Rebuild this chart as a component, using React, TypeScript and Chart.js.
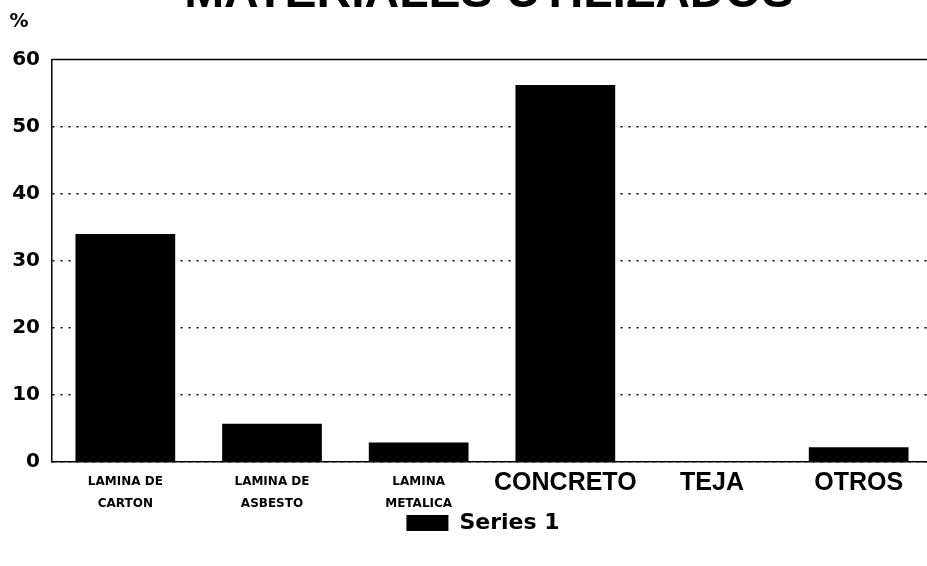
import React, { useEffect, useRef } from 'react';
import { Chart, registerables } from 'chart.js';

Chart.register(...registerables);

const categories: (string | string[])[] = [
  ['LAMINA DE', 'CARTON'],
  ['LAMINA DE', 'ASBESTO'],
  ['LAMINA', 'METALICA'],
  'CONCRETO',
  'TEJA',
  'OTROS',
];
const series1 = [34, 5.7, 2.9, 56.2, 0, 2.2];
const yMin = 0;
const yMax = 60;
const yStep = 10;
const titleText = 'MATERIALES UTILIZADOS';
const yUnit = '%';
const seriesName = 'Series 1';

const FONT = '"Liberation Sans", Arial, sans-serif';
const FONT_W = '"DejaVu Sans", sans-serif';

const framePlugin = {
  id: 'frame',
  afterLayout(chart: any) {
    const t = chart.titleBlock;
    if (t) {
      t.left += 23;
      t.right += 23;
    }
    const l = chart.legend;
    if (l) {
      l.left += 17;
      l.right += 17;
    }
  },
  afterDraw(chart: any) {
    const { ctx, chartArea } = chart;
    ctx.save();
    ctx.strokeStyle = '#000';
    ctx.lineWidth = 1.5;
    ctx.beginPath();
    ctx.moveTo(chartArea.left, chartArea.top);
    ctx.lineTo(chartArea.right, chartArea.top);
    ctx.stroke();
    ctx.font = `bold 19px ${FONT_W}`;
    ctx.fillStyle = '#000';
    ctx.textAlign = 'center';
    ctx.textBaseline = 'middle';
    ctx.fillText(yUnit, chartArea.left - 33, chartArea.top - 38);
    ctx.restore();
  },
};

export default function App() {
  const ref = useRef<HTMLCanvasElement | null>(null);

  useEffect(() => {
    if (!ref.current) return;
    const chart = new Chart(ref.current, {
      type: 'bar',
      data: {
        labels: categories,
        datasets: [
          {
            label: seriesName,
            data: series1,
            backgroundColor: '#000',
            borderWidth: 0,
            categoryPercentage: 1,
            barPercentage: 0.68,
          },
        ],
      },
      options: {
        responsive: false,
        animation: false,
        layout: { padding: { left: 0, right: 34, top: 0, bottom: 16 } },
        plugins: {
          title: {
            display: true,
            text: titleText,
            color: '#000',
            font: { family: FONT, size: 48, weight: 'bold', lineHeight: 1.2 },
            padding: { top: 5, bottom: 37 },
          },
          legend: {
            display: true,
            position: 'bottom',
            labels: {
              color: '#000',
              boxWidth: 42,
              boxHeight: 16,
              padding: 0,
              font: { family: FONT_W, size: 22, weight: 'bold' },
            },
          },
          tooltip: { enabled: false },
        },
        scales: {
          x: {
            afterFit: (scale: any) => {
              scale.height = 50;
            },
            grid: { display: false, drawTicks: false },
            border: { display: true, color: '#000', width: 1.5 },
            ticks: {
              color: '#000',
              autoSkip: false,
              maxRotation: 0,
              padding: 9,
              font: (c: any) =>
                c.index < 3
                  ? { family: FONT_W, size: 12, weight: 'bold', lineHeight: '22px' }
                  : { family: FONT, size: 25, weight: 'bold', lineHeight: '24px' },
            },
          },
          y: {
            min: yMin,
            max: yMax,
            afterFit: (scale: any) => {
              scale.width = 52;
            },
            grid: {
              drawTicks: false,
              color: (c: any) =>
                c.tick && c.tick.value === yMax ? 'rgba(0,0,0,0)' : '#000',
              lineWidth: 1.5,
            },
            border: { display: true, color: '#000', width: 1.5, dash: [2, 6] },
            ticks: {
              stepSize: yStep,
              color: '#000',
              padding: 12,
              font: { family: FONT_W, size: 20, weight: 'bold' },
            },
          },
        },
      },
      plugins: [framePlugin],
    });
    return () => chart.destroy();
  }, []);

  return (
    <div
      style={{
        position: 'fixed',
        left: 0,
        top: 0,
        width: 927,
        height: 566,
        overflow: 'hidden',
        background: '#fff',
      }}
    >
      <div style={{ position: 'absolute', left: 0, top: -40 }}>
        <canvas ref={ref} width={966} height={600} />
      </div>
    </div>
  );
}
